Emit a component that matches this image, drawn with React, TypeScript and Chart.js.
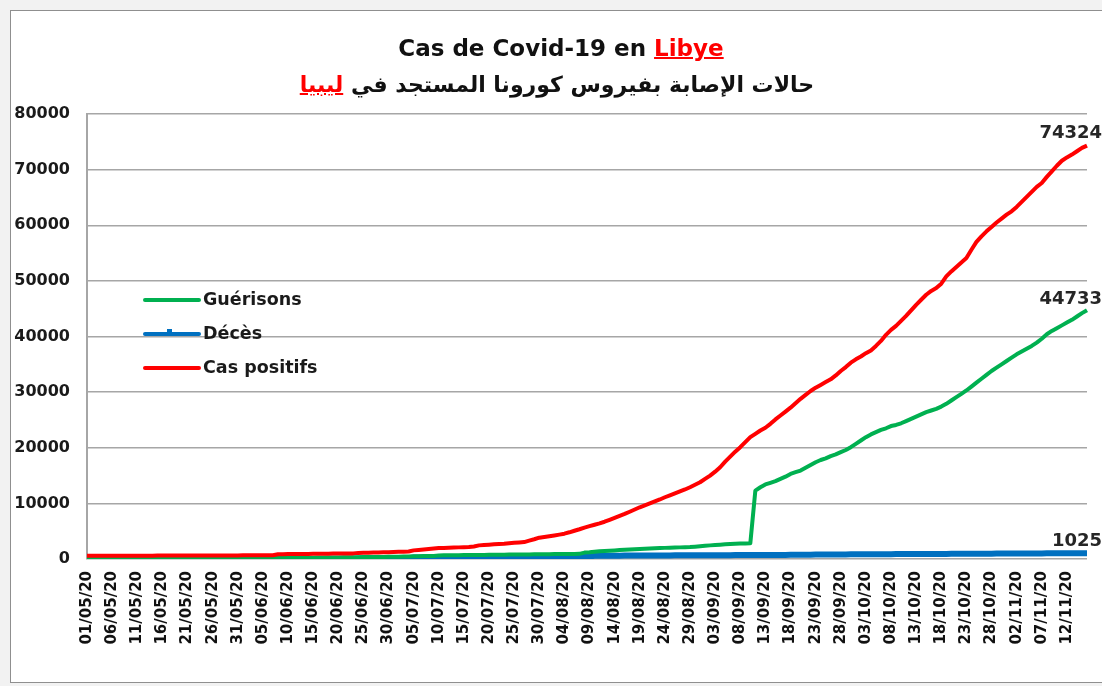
import React, { useEffect, useRef } from "react";
import { Chart, registerables } from "chart.js";

Chart.register(...registerables);

// ---- DATA ----
const START_DAY = "2020-05-01";
const DAY_COUNT = 200;

const TICK_LABELS = [
  "01/05/20", "06/05/20", "11/05/20", "16/05/20", "21/05/20", "26/05/20", "31/05/20",
  "05/06/20", "10/06/20", "15/06/20", "20/06/20", "25/06/20", "30/06/20",
  "05/07/20", "10/07/20", "15/07/20", "20/07/20", "25/07/20", "30/07/20",
  "04/08/20", "09/08/20", "14/08/20", "19/08/20", "24/08/20", "29/08/20",
  "03/09/20", "08/09/20", "13/09/20", "18/09/20", "23/09/20", "28/09/20",
  "03/10/20", "08/10/20", "13/10/20", "18/10/20", "23/10/20", "28/10/20",
  "02/11/20", "07/11/20", "12/11/20",
];

const CAS_POSITIFS = [
  580, 580, 585, 585, 590, 590, 590, 595, 595, 600,
  600, 600, 605, 605, 610, 610, 615, 615, 620, 620,
  625, 625, 630, 630, 635, 640, 640, 645, 645, 650,
  650, 655, 660, 660, 665, 670, 675, 680, 860, 870,
  880, 890, 900, 910, 920, 930, 940, 950, 960, 970,
  980, 990, 1000, 1010, 1100, 1120, 1140, 1160, 1180, 1200,
  1230, 1260, 1290, 1320, 1350, 1550, 1620, 1700, 1780, 1870,
  1960, 1990, 2020, 2060, 2090, 2120, 2140, 2250, 2450, 2520,
  2580, 2650, 2700, 2750, 2830, 2900, 2970, 3040, 3300, 3550,
  3830, 3950, 4080, 4220, 4380, 4550, 4800, 5080, 5350, 5650,
  5900, 6150, 6400, 6700, 7050, 7400, 7750, 8100, 8500, 8900,
  9300, 9650, 10000, 10350, 10700, 11100, 11450, 11800, 12150, 12500,
  12900, 13350, 13800, 14400, 15000, 15700, 16500, 17500, 18400, 19300,
  20100, 21000, 21900, 22500, 23100, 23600, 24300, 25100, 25800, 26500,
  27200, 28000, 28800, 29500, 30200, 30800, 31300, 31800, 32300, 33000,
  33800, 34500, 35300, 35900, 36400, 37000, 37500, 38300, 39200, 40300,
  41200, 41900, 42800, 43700, 44700, 45700, 46600, 47500, 48200, 48700,
  49500, 50800, 51700, 52500, 53300, 54100, 55600, 57000, 58000, 58900,
  59700, 60500, 61200, 61900, 62500, 63300, 64200, 65100, 66000, 66900,
  67600, 68700, 69700, 70700, 71600, 72200, 72700, 73300, 73900, 74324,
];

const GUERISONS = [
  20, 25, 30, 35, 35, 40, 40, 45, 45, 50,
  50, 55, 55, 60, 60, 60, 65, 65, 70, 70,
  70, 75, 75, 80, 80, 80, 85, 85, 90, 90,
  95, 100, 110, 120, 130, 140, 150, 160, 170, 180,
  190, 200, 210, 220, 230, 240, 250, 260, 270, 280,
  290, 300, 310, 320, 330, 340, 350, 360, 370, 380,
  390, 400, 420, 440, 460, 480, 500, 520, 540, 560,
  650, 660, 670, 680, 690, 700, 710, 720, 730, 740,
  750, 760, 770, 780, 790, 800, 810, 820, 830, 840,
  850, 860, 870, 880, 890, 900, 910, 920, 930, 1150,
  1200, 1300, 1400, 1450, 1500, 1550, 1600, 1650, 1700, 1750,
  1800, 1850, 1900, 1950, 1980, 2000, 2030, 2060, 2090, 2120,
  2150, 2220, 2300, 2380, 2450, 2520, 2580, 2640, 2700, 2750,
  2780, 2800, 2820, 12300, 12900, 13400, 13700, 14000, 14400, 14800,
  15300, 15600, 15900, 16400, 16900, 17400, 17800, 18100, 18500, 18800,
  19200, 19600, 20100, 20700, 21300, 21900, 22400, 22800, 23200, 23500,
  23900, 24100, 24400, 24800, 25200, 25600, 26000, 26400, 26700, 27000,
  27400, 27900, 28500, 29100, 29700, 30300, 31000, 31700, 32400, 33100,
  33800, 34400, 35000, 35600, 36200, 36800, 37300, 37800, 38300, 38900,
  39600, 40400, 41000, 41500, 42000, 42500, 43000, 43600, 44200, 44733,
];

const DECES = [
  2, 2, 3, 3, 3, 3, 3, 3, 3, 3,
  3, 3, 3, 3, 3, 3, 4, 4, 5, 5,
  5, 5, 5, 5, 5, 5, 5, 5, 5, 5,
  5, 5, 5, 5, 5, 5, 5, 10, 10, 10,
  10, 10, 13, 13, 13, 13, 18, 18, 24, 28,
  32, 35, 37, 38, 100, 105, 110, 115, 120, 125,
  130, 135, 140, 145, 150, 250, 260, 270, 280, 290,
  300, 305, 310, 315, 320, 325, 330, 335, 340, 345,
  350, 355, 360, 365, 370, 375, 380, 385, 390, 395,
  400, 405, 410, 415, 420, 425, 430, 435, 440, 445,
  450, 580, 585, 590, 595, 600, 605, 610, 615, 620,
  625, 628, 632, 636, 640, 644, 648, 652, 656, 660,
  664, 668, 672, 676, 680, 684, 688, 692, 696, 700,
  704, 708, 712, 716, 720, 724, 728, 732, 736, 740,
  744, 748, 752, 756, 760, 800, 805, 810, 815, 820,
  825, 830, 835, 840, 845, 850, 855, 860, 865, 870,
  874, 878, 882, 886, 890, 894, 898, 902, 906, 910,
  914, 918, 922, 926, 930, 934, 938, 942, 946, 950,
  954, 990, 993, 996, 999, 1001, 1003, 1005, 1007, 1009,
  1011, 1013, 1015, 1016, 1018, 1019, 1021, 1022, 1024, 1025,
];

const SERIES_NAMES = ["Guérisons", "Décès", "Cas positifs"];
const COLORS = { green: "#00b050", blue: "#0070c0", red: "#ff0000" };

function buildCategories(): string[] {
  const out: string[] = [];
  const d0 = new Date(START_DAY + "T00:00:00Z");
  for (let i = 0; i < DAY_COUNT; i++) {
    const d = new Date(d0.getTime() + i * 86400000);
    const dd = String(d.getUTCDate()).padStart(2, "0");
    const mm = String(d.getUTCMonth() + 1).padStart(2, "0");
    const yy = String(d.getUTCFullYear()).slice(2);
    out.push(`${dd}/${mm}/${yy}`);
  }
  return out;
}

const CATEGORIES = buildCategories();

const W = 1102;
const H = 686;

const overlayPlugin = {
  id: "overlay",
  afterDatasetsDraw(chart: any) {
    const ctx = chart.ctx as CanvasRenderingContext2D;
    ctx.save();
    // legend
    const items = [
      { name: SERIES_NAMES[0], color: COLORS.green, y: 300 },
      { name: SERIES_NAMES[1], color: COLORS.blue, y: 334 },
      { name: SERIES_NAMES[2], color: COLORS.red, y: 368 },
    ];
    ctx.lineCap = "round";
    for (const it of items) {
      ctx.strokeStyle = it.color;
      ctx.lineWidth = 4;
      ctx.beginPath();
      ctx.moveTo(145, it.y);
      ctx.lineTo(199, it.y);
      ctx.stroke();
      if (it.color === COLORS.blue) {
        ctx.fillStyle = COLORS.blue;
        ctx.fillRect(167, it.y - 5, 5, 4);
      }
      ctx.fillStyle = "#1a1a1a";
      ctx.font = "bold 17.5px 'DejaVu Sans'";
      ctx.textAlign = "left";
      ctx.textBaseline = "middle";
      ctx.fillText(it.name, 203, it.y);
    }
    // data labels at last point
    const labelFor = [
      { ds: 0, text: String(CAS_POSITIFS[CAS_POSITIFS.length - 1]), dy: -8 },
      { ds: 1, text: String(GUERISONS[GUERISONS.length - 1]), dy: -6 },
      { ds: 2, text: String(DECES[DECES.length - 1]), dy: -7 },
    ];
    ctx.font = "bold 18px 'DejaVu Sans'";
    ctx.fillStyle = "#262626";
    ctx.textAlign = "right";
    ctx.textBaseline = "alphabetic";
    for (const l of labelFor) {
      const meta = chart.getDatasetMeta(l.ds);
      const pt = meta.data[meta.data.length - 1];
      ctx.fillText(l.text, 1102, pt.y + l.dy);
    }
    ctx.restore();
  },
};

export default function App() {
  const ref = useRef<HTMLCanvasElement | null>(null);

  useEffect(() => {
    if (!ref.current) return;
    const chart = new Chart(ref.current, {
      type: "line",
      data: {
        labels: CATEGORIES,
        datasets: [
          {
            label: SERIES_NAMES[2],
            data: CAS_POSITIFS,
            borderColor: COLORS.red,
            backgroundColor: COLORS.red,
            borderWidth: 4,
            pointRadius: 0,
            tension: 0,
            borderJoinStyle: "round",
          },
          {
            label: SERIES_NAMES[0],
            data: GUERISONS,
            borderColor: COLORS.green,
            backgroundColor: COLORS.green,
            borderWidth: 4,
            pointRadius: 0,
            tension: 0,
            borderJoinStyle: "round",
          },
          {
            label: SERIES_NAMES[1],
            data: DECES,
            borderColor: COLORS.blue,
            backgroundColor: COLORS.blue,
            borderWidth: 6,
            pointRadius: 0,
            tension: 0,
          },
        ],
      },
      options: {
        animation: false,
        responsive: false,
        devicePixelRatio: 1,
        layout: { padding: { top: 114, right: 15, left: 0, bottom: 0 } },
        plugins: {
          legend: { display: false },
          title: { display: false },
          tooltip: { enabled: false },
        },
        scales: {
          x: {
            type: "category",
            offset: false,
            grid: { display: false, drawTicks: false },
            border: { display: false },
            ticks: {
              autoSkip: false,
              minRotation: 90,
              maxRotation: 90,
              padding: 12,
              color: "#111111",
              font: { family: "'DejaVu Sans'", size: 15, weight: "bold" },
              callback: (_v: any, idx: number) => {
                const lab = CATEGORIES[idx];
                return TICK_LABELS.includes(lab) ? lab : "";
              },
            },
            afterFit: (s: any) => {
              s.height = 127;
              s.paddingLeft = 0;
              s.paddingRight = 0;
            },
          },
          y: {
            min: 0,
            max: 80000,
            grid: { color: "#a6a6a6", lineWidth: 1.5, drawTicks: false },
            border: { display: true, color: "#a6a6a6", width: 2 },
            ticks: {
              stepSize: 10000,
              padding: 17,
              color: "#1a1a1a",
              font: { family: "'DejaVu Sans'", size: 16, weight: "bold" },
              callback: (v: any) => String(v),
            },
            afterFit: (s: any) => {
              s.width = 87;
            },
          },
        },
      },
      plugins: [overlayPlugin],
    });
    return () => chart.destroy();
  }, []);

  return (
    <div style={{ position: "fixed", left: 0, top: 0, width: W, height: H, background: "#f2f2f2", overflow: "hidden" }}>
      <div
        style={{
          position: "absolute",
          left: 10,
          top: 10,
          width: 1100,
          height: 671,
          background: "#ffffff",
          border: "1px solid #8f8f8f",
        }}
      />
      <canvas ref={ref} width={W} height={H} style={{ position: "absolute", left: 0, top: 0, width: W, height: H }} />
      <div
        style={{
          position: "absolute",
          left: 0,
          width: 1122,
          top: 34,
          textAlign: "center",
          font: "bold 23px 'DejaVu Sans'",
          lineHeight: "28px",
          color: "#111111",
          whiteSpace: "nowrap",
        }}
      >
        Cas de Covid-19 en{" "}
        <span style={{ color: "#ff0000", textDecoration: "underline", textDecorationThickness: "2px" }}>Libye</span>
      </div>
      <div
        dir="rtl"
        style={{
          position: "absolute",
          left: 0,
          width: 1114,
          top: 71,
          textAlign: "center",
          font: "bold 22px 'DejaVu Sans'",
          lineHeight: "28px",
          color: "#111111",
          whiteSpace: "nowrap",
        }}
      >
        حالات الإصابة بفيروس كورونا المستجد في{" "}
        <span style={{ color: "#ff0000", textDecoration: "underline", textDecorationThickness: "2px" }}>ليبيا</span>
      </div>
    </div>
  );
}
